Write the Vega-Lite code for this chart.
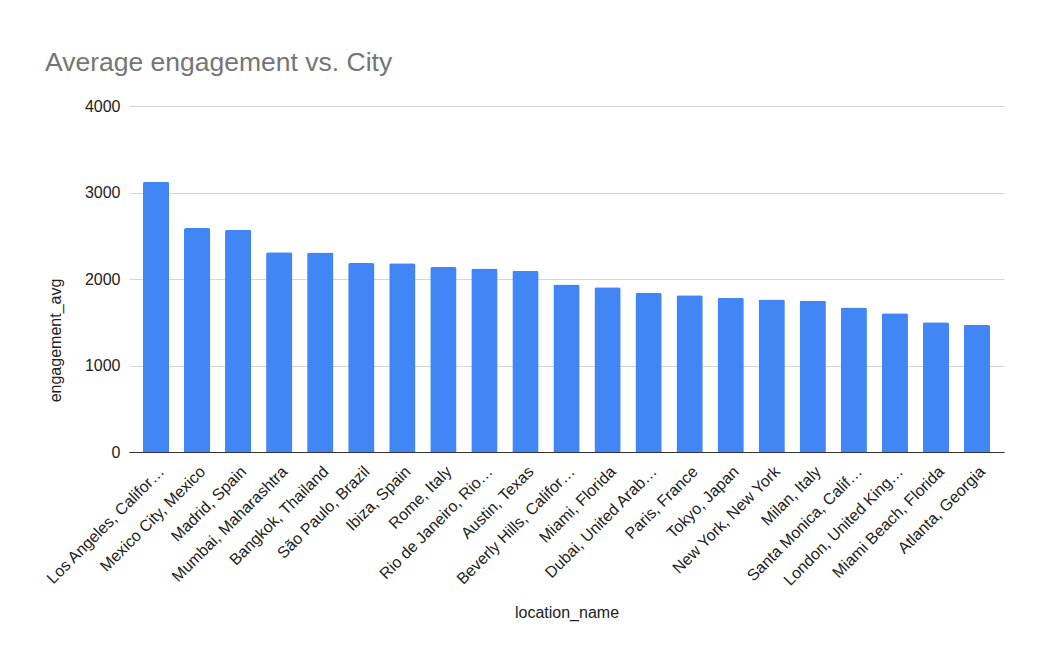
{
  "$schema": "https://vega.github.io/schema/vega-lite/v6.json",
  "width": 875,
  "height": 346,
  "autosize": {"type": "none"},
  "padding": {"left": 129, "top": 106, "right": 40, "bottom": 205},
  "background": "#ffffff",
  "title": {
    "text": "Average engagement vs. City",
    "anchor": "start",
    "frame": "group",
    "dx": -84,
    "offset": 22,
    "fontSize": 26.5,
    "font": "Liberation Sans",
    "fontWeight": "normal",
    "color": "#757575"
  },
  "data": {
    "values": [
      {"location_name": "Los Angeles, Califor…", "engagement_avg": 3125},
      {"location_name": "Mexico City, Mexico", "engagement_avg": 2589},
      {"location_name": "Madrid, Spain", "engagement_avg": 2569},
      {"location_name": "Mumbai, Maharashtra", "engagement_avg": 2308},
      {"location_name": "Bangkok, Thailand", "engagement_avg": 2306},
      {"location_name": "São Paulo, Brazil", "engagement_avg": 2184},
      {"location_name": "Ibiza, Spain", "engagement_avg": 2182},
      {"location_name": "Rome, Italy", "engagement_avg": 2138},
      {"location_name": "Rio de Janeiro, Rio…", "engagement_avg": 2122},
      {"location_name": "Austin, Texas", "engagement_avg": 2095},
      {"location_name": "Beverly Hills, Califor…", "engagement_avg": 1937},
      {"location_name": "Miami, Florida", "engagement_avg": 1906},
      {"location_name": "Dubai, United Arab…", "engagement_avg": 1840},
      {"location_name": "Paris, France", "engagement_avg": 1813},
      {"location_name": "Tokyo, Japan", "engagement_avg": 1783},
      {"location_name": "New York, New York", "engagement_avg": 1763},
      {"location_name": "Milan, Italy", "engagement_avg": 1748},
      {"location_name": "Santa Monica, Calif…", "engagement_avg": 1671},
      {"location_name": "London, United King…", "engagement_avg": 1605},
      {"location_name": "Miami Beach, Florida", "engagement_avg": 1501},
      {"location_name": "Atlanta, Georgia", "engagement_avg": 1470}
    ]
  },
  "mark": {"type": "bar", "color": "#4285F4", "cornerRadiusTopLeft": 2, "cornerRadiusTopRight": 2},
  "encoding": {
    "x": {
      "field": "location_name",
      "type": "nominal",
      "sort": null,
      "scale": {"paddingInner": 0.36, "paddingOuter": 0.34},
      "axis": {
        "title": "location_name",
        "labelAngle": -45,
        "labelAlign": "right",
        "labelBaseline": "top",
        "labelFont": "Liberation Sans",
        "labelFontSize": 16,
        "labelColor": "#222222",
        "labelPadding": 11,
        "labelLimit": 300,
        "ticks": false,
        "domainColor": "#333333",
        "titleFont": "Liberation Sans",
        "titleFontSize": 16,
        "titleFontWeight": "normal",
        "titleColor": "#222222",
        "titleBaseline": "middle",
        "titleY": 160
      }
    },
    "y": {
      "field": "engagement_avg",
      "type": "quantitative",
      "scale": {"domain": [0, 4000], "nice": false},
      "axis": {
        "title": "engagement_avg",
        "values": [0, 1000, 2000, 3000, 4000],
        "format": "d",
        "domain": false,
        "ticks": false,
        "labelPadding": 9,
        "labelFont": "Liberation Sans",
        "labelFontSize": 16,
        "labelColor": "#222222",
        "gridColor": "#d6d6d6",
        "titleFont": "Liberation Sans",
        "titleFontSize": 16,
        "titleFontWeight": "normal",
        "titleColor": "#222222",
        "titleAngle": 270,
        "titleAlign": "center",
        "titleBaseline": "middle",
        "titleX": -74,
        "titleY": 234
      }
    }
  },
  "config": {"view": {"stroke": null}}
}
